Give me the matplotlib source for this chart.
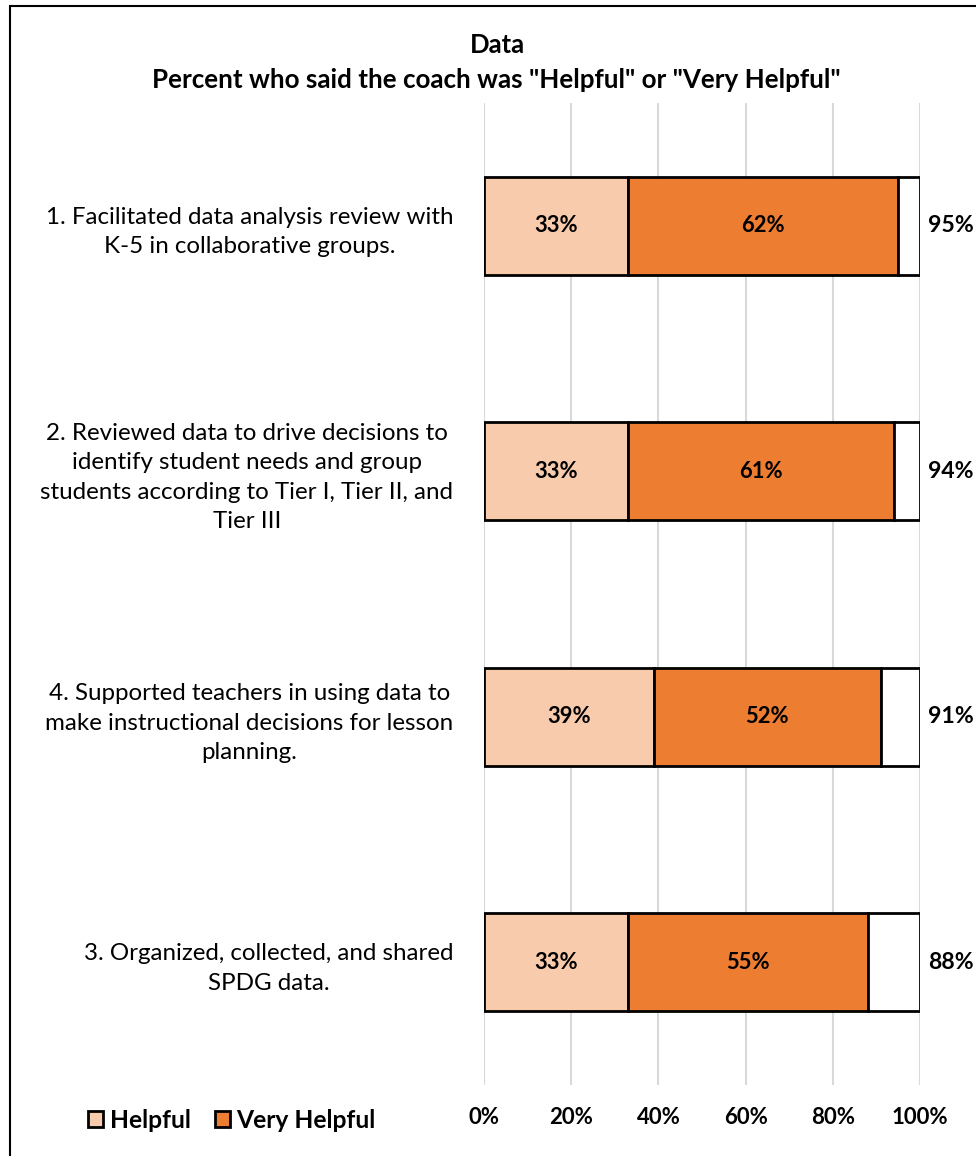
import matplotlib
matplotlib.use('Agg')
import matplotlib.pyplot as plt
from matplotlib.patches import Rectangle, Patch

plt.rcParams['font.family'] = ['Lato', 'DejaVu Sans']

categories = [
  '1. Facilitated data analysis review with\nK-5 in collaborative groups.',
  '2. Reviewed data to drive decisions to\nidentify student needs and group\nstudents according to Tier I, Tier II, and\nTier III',
  '4. Supported teachers in using data to\nmake instructional decisions for lesson\nplanning.',
  '3. Organized, collected, and shared\nSPDG data.',
]
helpful = [33, 33, 39, 33]
very_helpful = [62, 61, 52, 55]
totals = [95, 94, 91, 88]
xticks = [0, 20, 40, 60, 80, 100]

LIGHT = '#F8CBAD'
DARK = '#ED7D31'

fig = plt.figure(figsize=(9.76, 11.56), dpi=100)
W, H = 976.0, 1156.0
ax = fig.add_axes([484 / W, 1 - 1085 / H, 436 / W, (1085 - 103) / H])

pos = list(range(len(categories)))
rest = [100 - h - v for h, v in zip(helpful, very_helpful)]
ax.barh(pos, helpful, height=0.4, color=LIGHT, edgecolor='black', linewidth=2, zorder=3)
ax.barh(pos, very_helpful, left=helpful, height=0.4, color=DARK, edgecolor='black',
        linewidth=2, zorder=3)
left2 = [h + v for h, v in zip(helpful, very_helpful)]
ax.barh(pos, rest, left=left2, height=0.4, color='white', edgecolor='black',
        linewidth=2, zorder=3)

for i in pos:
  ax.text(helpful[i] / 2, i, '%d%%' % helpful[i], ha='center', va='center',
          fontsize=15.8, fontweight='bold', zorder=4)
  ax.text(helpful[i] + very_helpful[i] / 2, i, '%d%%' % very_helpful[i], ha='center',
          va='center', fontsize=15.8, fontweight='bold', zorder=4)
  ax.text(101.8, i, '%d%%' % totals[i], ha='left', va='center', fontsize=16.6,
          fontweight='bold', zorder=4)

ax.set_xlim(0, 100)
ax.set_ylim(len(categories) - 0.5, -0.5)
ax.set_yticks(pos)
ax.set_yticklabels(categories, fontsize=17.4, multialignment='center', linespacing=1.5)
ax.set_xticks(xticks)
ax.set_xticklabels(['%d%%' % t for t in xticks], fontsize=16, fontweight='bold')
ax.tick_params(axis='both', length=0)
ax.tick_params(axis='x', pad=16)
ax.tick_params(axis='y', pad=22)
ax.grid(axis='x', color='#D9D9D9', linewidth=1.5, zorder=0)
for s in ax.spines.values():
  s.set_visible(False)

fig.text(497 / W, 1 - 45 / H, 'Data', ha='center', va='center', fontsize=18.5,
         fontweight='bold')
fig.text(496 / W, 1 - 80 / H, 'Percent who said the coach was "Helpful" or "Very Helpful"',
         ha='center', va='center', fontsize=18.7, fontweight='bold')

handles = [Patch(facecolor=LIGHT, edgecolor='black', linewidth=2),
           Patch(facecolor=DARK, edgecolor='black', linewidth=2)]
fig.legend(handles, ['Helpful', 'Very Helpful'], loc='center left',
           bbox_to_anchor=(66 / W, 1 - 1120 / H), ncol=2, frameon=False,
           prop={'weight': 'bold', 'size': 17.7}, handlelength=0.62, handleheight=0.62,
           handletextpad=0.25, columnspacing=1.0)

fig.patches.append(Rectangle((10 / W, -0.1), 1.2, 1 - 6 / H + 0.1,
                             transform=fig.transFigure, fill=False,
                             edgecolor='black', linewidth=1.5))

fig.savefig('out.png', dpi=100)
